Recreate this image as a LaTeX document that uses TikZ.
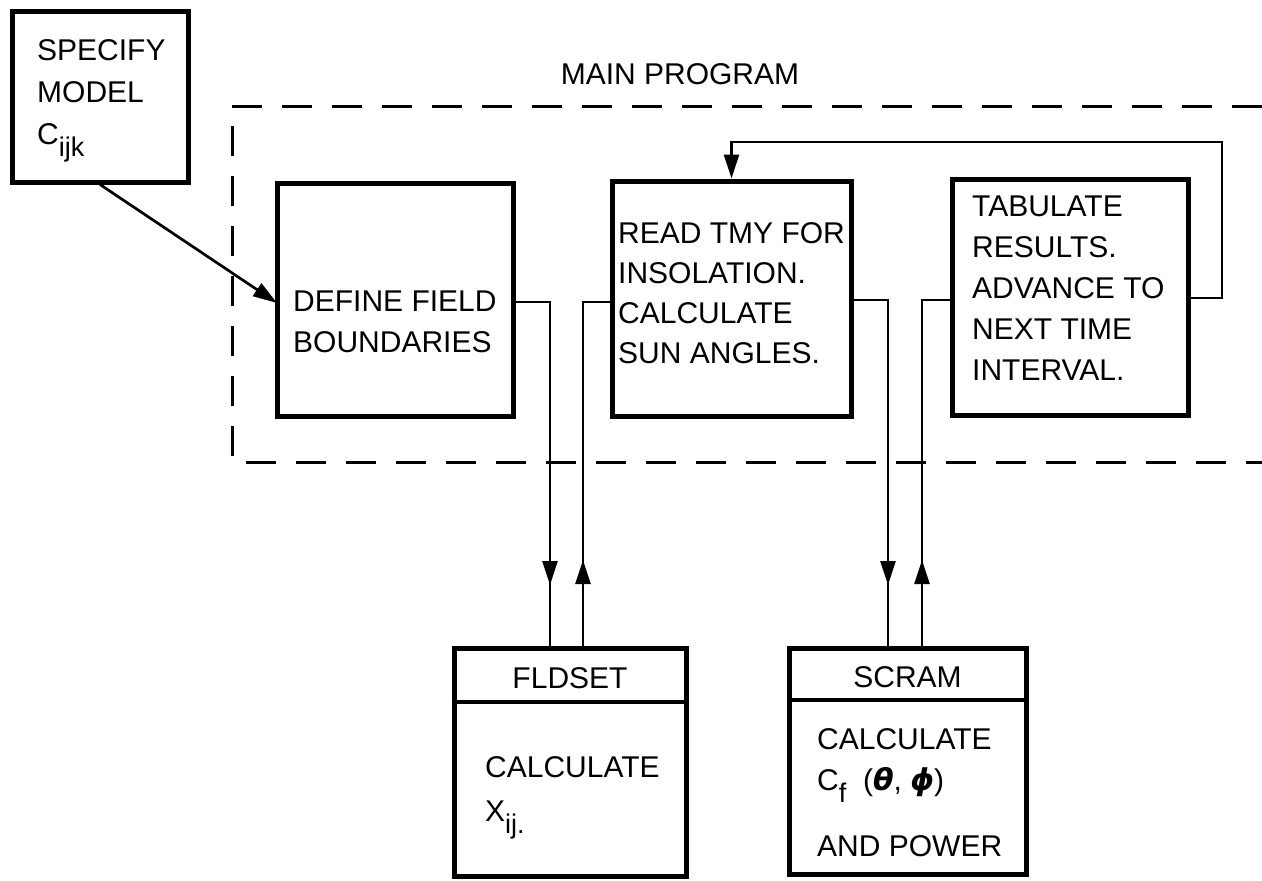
\documentclass[tikz,border=0pt]{standalone}
\usepackage{fontspec}
\setmainfont{Liberation Sans}
\newfontfamily\grk{DejaVu Sans}
\usetikzlibrary{arrows.meta,decorations.markings}
\newcommand{\sub}[1]{\raisebox{-12pt}{\fontsize{27}{27}\selectfont #1}}
\begin{document}
\begin{tikzpicture}[x=1pt,y=-1pt,
  box/.style={draw, line width=5pt, inner sep=0pt, outer sep=2.5pt},
  txt/.style={font=\fontsize{30}{41}\selectfont, align=left, inner sep=0pt, anchor=north west},
  hdr/.style={font=\fontsize{30}{34}\selectfont, inner sep=0pt, anchor=base},
  conn/.style={line width=2.7pt},
  divline/.style={line width=4pt},
  dashline/.style={line width=3pt, dash pattern=on 30pt off 20pt},
  tip/.tip={Triangle[length=24pt,width=15pt]},
  midarrow/.style={postaction={decorate}, decoration={markings, mark=at position #1 with {\arrow{tip}}}}
]
\useasboundingbox (0,0) rectangle (1262,881);

% dashed main program frame
\draw[dashline] (1262,106) -- (232,106) -- (232,462) -- (1262,462);
\node[hdr] (mainlbl) at (680,84) {MAIN PROGRAM};

% boxes
\node[box, minimum width=176pt, minimum height=171pt] (spec) at (100,96.5) {};
\node[txt, font=\fontsize{30}{42}\selectfont] (specT) at (37,39.5) {SPECIFY\\MODEL\\C\sub{ijk}};

\node[box, minimum width=236pt, minimum height=233pt] (def) at (395,299.5) {};
\node[txt] (defT) at (293,290.5) {DEFINE FIELD\\BOUNDARIES};

\node[box, minimum width=239pt, minimum height=235pt] (mid) at (731.5,298.5) {};
\node[txt, font=\fontsize{30}{40}\selectfont] (midT) at (618,222.5) {READ TMY FOR\\INSOLATION.\\CALCULATE\\SUN ANGLES.};

\node[box, minimum width=236pt, minimum height=236pt] (tab) at (1070,297) {};
\node[txt] (tabT) at (972,195.5) {TABULATE\\RESULTS.\\ADVANCE TO\\NEXT TIME\\INTERVAL.};

\node[box, minimum width=232pt, minimum height=228pt] (fld) at (570,762) {};
\draw[divline] (fld.west |- 0,702) -- (fld.east |- 0,702);
\node[hdr] (fldH) at (570,688) {FLDSET};
\node[txt, font=\fontsize{30}{44}\selectfont] (fldT) at (485,756.5) {CALCULATE\\X\sub{ij.}};

\node[box, minimum width=237pt, minimum height=226pt] (scr) at (907.5,761) {};
\draw[divline] (scr.west |- 0,700) -- (scr.east |- 0,700);
\node[hdr] (scrH) at (907.5,687) {SCRAM};
\node[txt] (scrT) at (817,728.5) {CALCULATE\\C\sub{f}\ \ ({\grk\bfseries\itshape θ}, {\grk\bfseries\itshape ϕ})\\[25pt]AND POWER};

% connectors
\coordinate (a1) at (277,303);
\draw[conn, -{tip}] (spec.south) -- (a1);

\coordinate (d1) at (550,302);
\coordinate (u1) at (583,302);
\coordinate (d2) at (888,300);
\coordinate (u2) at (922,300);
\coordinate (l1) at (1222,298);
\coordinate (l2) at (1222,142);

\draw[conn, midarrow=317.5pt] (def.east |- d1) -- (d1) -- (d1 |- fld.north);
\draw[conn, midarrow=85.5pt] (u1 |- fld.north) -- (u1) -- (u1 -| mid.west);
\draw[conn, midarrow=319.5pt] (mid.east |- d2) -- (d2) -- (d2 |- scr.north);
\draw[conn, midarrow=85.5pt] (u2 |- scr.north) -- (u2) -- (u2 -| tab.west);
\draw[conn, -{tip}] (tab.east |- l1) -- (l1) -- (l2) -| (mid.north);
\end{tikzpicture}
\end{document}
